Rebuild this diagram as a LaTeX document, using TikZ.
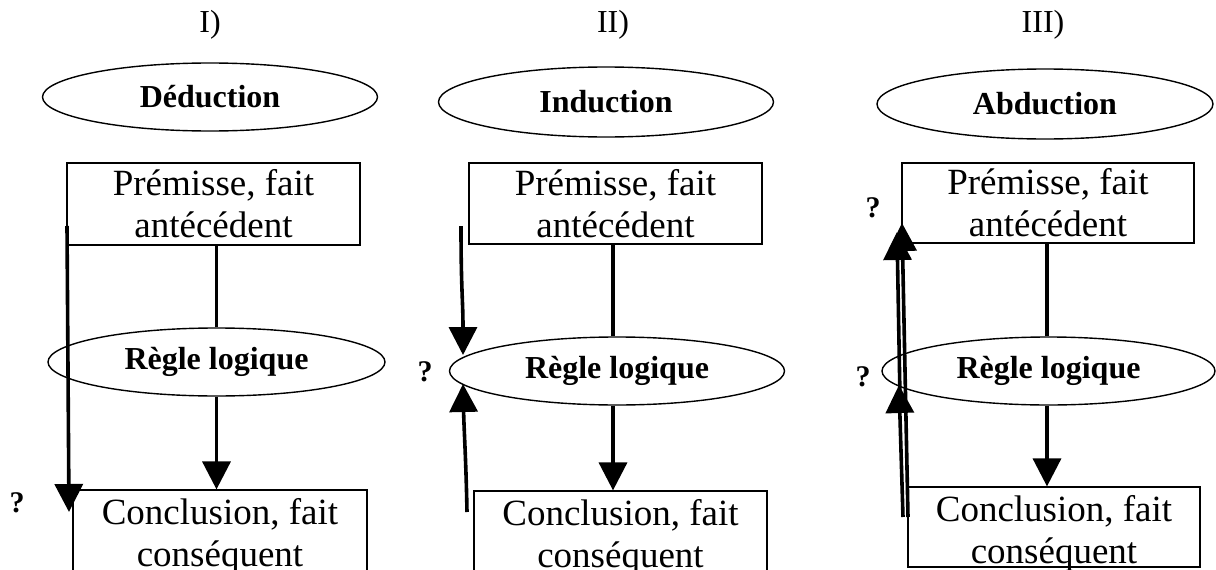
\documentclass[tikz,border=0pt]{standalone}
\usepackage{fontspec}
\setmainfont{Liberation Serif}
\usetikzlibrary{shapes.geometric,arrows.meta}
\begin{document}
\begin{tikzpicture}[x=1pt,y=-1pt,
  ell/.style={ellipse, draw, line width=1.4pt, inner sep=0pt, font=\bfseries\fontsize{32}{36}\selectfont},
  box/.style={rectangle, draw, line width=1.2pt, inner sep=0pt, align=center, font=\fontsize{37}{42}\selectfont},
  boxtext/.style={inner sep=0pt, align=center, font=\fontsize{37}{42}\selectfont},
  lab/.style={font=\fontsize{32}{36}\selectfont},
  qm/.style={font=\bfseries\fontsize{30}{34}\selectfont},
  conn/.style={line width=3.6pt},
  arr/.style={line width=3.6pt, -{Triangle[length=28pt,width=28pt]}}
]
\useasboundingbox (0,0) rectangle (1216,570);

% ---------- Panel I : Deduction ----------
\node[lab] (t1) at (210,25) {I)};
\node[ell, minimum width=335pt, minimum height=68pt] (e1) at (210,97) {Déduction};
\node[box, minimum width=293pt, minimum height=82pt] (p1) at (213.5,204) {Prémisse, fait\\antécédent};
\node[ell, minimum width=337pt, minimum height=68pt] (r1) at (216.5,362) {Règle logique};
\node[box, minimum width=294pt, minimum height=92pt] (c1) at (220,536) {Conclusion, fait\\conséquent};
\draw[conn] (r1.north) -- (r1.north |- p1.south);
\draw[arr] (r1.south) -- (r1.south |- c1.north);
\coordinate (q1a) at (67,226);
\coordinate (q1b) at (69,512);
\draw[arr] (q1a) -- (q1b);
\node[qm] (m1) at (17,503) {?};

% ---------- Panel II : Induction ----------
\node[lab] (t2) at (613,25) {II)};
\node[ell, minimum width=335pt, minimum height=70pt] (e2) at (606,102) {Induction};
\node[box, minimum width=293pt, minimum height=81pt] (p2) at (615.5,203.5) {Prémisse, fait\\antécédent};
\node[ell, minimum width=335pt, minimum height=68pt] (r2) at (617,371) {Règle logique};
\node[box, minimum width=293pt, minimum height=92pt] (c2) at (620.5,537) {Conclusion, fait\\conséquent};
\draw[conn] ([xshift=-4pt]r2.north) -- ([xshift=-4pt]r2.north |- p2.south);
\draw[arr] ([xshift=-4pt]r2.south) -- ([xshift=-4pt]r2.south |- c2.north);
\coordinate (q2a) at (461,226);
\coordinate (q2b) at (463,355);
\coordinate (q2c) at (467,512);
\coordinate (q2d) at (463,384);
\draw[arr] (q2a) .. controls (461,290) and (463,300) .. (q2b);
\draw[arr] (q2c) .. controls (466,460) and (464,430) .. (q2d);
\node[qm] (m2) at (425,372) {?};

% ---------- Panel III : Abduction ----------
\node[lab] (t3) at (1043,25) {III)};
\node[ell, minimum width=336pt, minimum height=70pt] (e3) at (1045,104) {Abduction};
\node[box, minimum width=292pt, minimum height=80pt] (p3) at (1048,203) {Prémisse, fait\\antécédent};
\node[ell, minimum width=333pt, minimum height=68pt] (r3) at (1048.5,371) {Règle logique};
\node[box, minimum width=292pt, minimum height=80pt] (c3) at (1054,527) {};
\node[boxtext] (c3t) at (1054,533) {Conclusion, fait\\conséquent};
\draw[conn] ([xshift=-1.5pt]r3.north) -- ([xshift=-1.5pt]r3.north |- p3.south);
\draw[arr] ([xshift=-1.5pt]r3.south) -- ([xshift=-1.5pt]r3.south |- c3.north);
\coordinate (q3a) at (908,517);
\coordinate (q3b) at (902,223);
\coordinate (q3c) at (903,517);
\coordinate (q3d) at (899,385);
\coordinate (q3e) at (900,398);
\coordinate (q3f) at (897,232);
\draw[arr] (q3a) -- (q3b);
\draw[arr] (q3c) -- (q3d);
\draw[arr] (q3e) -- (q3f);
\node[qm] (m3) at (873,208) {?};
\node[qm] (m4) at (863,377) {?};
\end{tikzpicture}
\end{document}
